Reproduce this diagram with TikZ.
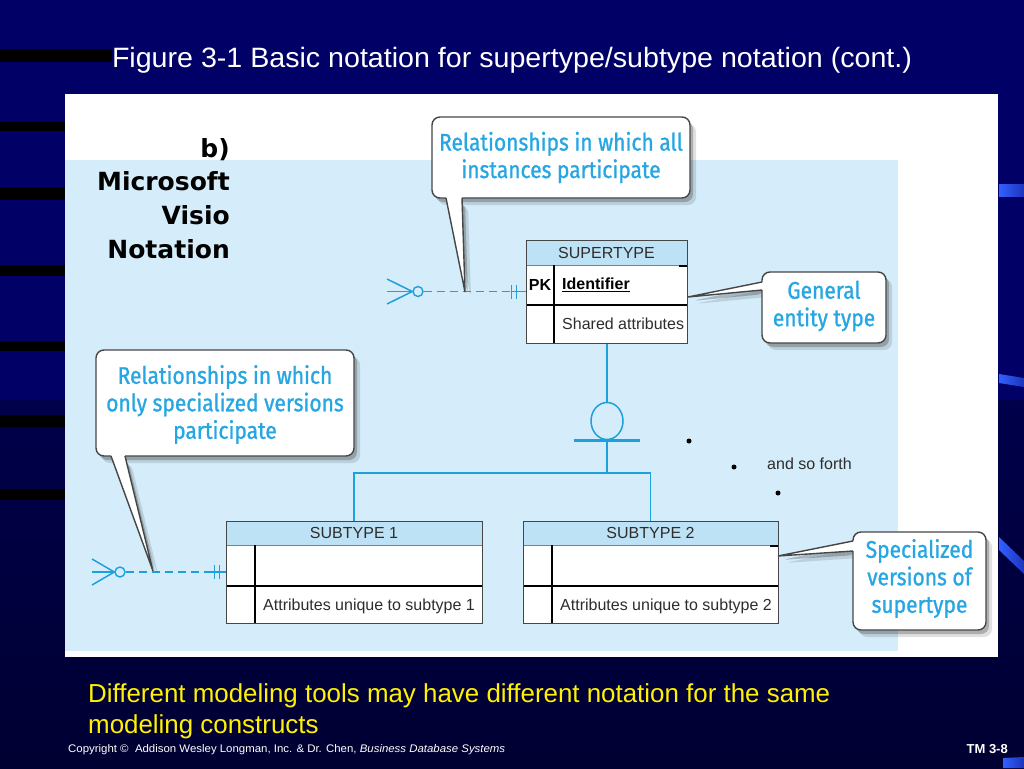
\documentclass[tikz,border=0pt]{standalone}
\usepackage{fontspec}
\setmainfont{Liberation Sans}
\newfontfamily\callfont{Fira Sans}[FakeStretch=0.875, FakeBold=1]
\newfontfamily\visfont{DejaVu Sans}
\usetikzlibrary{shapes.geometric,calc}
\definecolor{navy}{RGB}{0,0,102}
\definecolor{navydark}{RGB}{0,0,50}
\definecolor{panelblue}{RGB}{213,237,250}
\definecolor{headblue}{RGB}{190,226,245}
\definecolor{cyanline}{RGB}{30,160,220}
\definecolor{calltextc}{RGB}{38,166,226}
\definecolor{edgegray}{RGB}{70,70,70}
\definecolor{textgray}{RGB}{45,45,45}
\definecolor{streak}{RGB}{50,95,255}
\newcommand\drawcallout[3]{%
  \fill[black, opacity=.12, shift={(6,7)}, rounded corners=8] #1 #2 -- cycle;
  \fill[black, opacity=.22, shift={(3,4)}, rounded corners=8] #1 #2 -- cycle;
  \fill[white, rounded corners=8] #1;
  \fill[white] #2 -- cycle;
  \draw[calledge, rounded corners=8] #3;
  \draw[calledge] #2;
}
\begin{document}
\begin{tikzpicture}[x=1pt,y=-1pt,
  conn/.style={draw=cyanline, line width=1.5},
  calledge/.style={draw=edgegray, line width=1.4},
  calltxt/.style={font=\callfont\fontsize{24}{27.5}\selectfont, text=calltextc, align=center, inner sep=0},
  entitybox/.style={draw=edgegray, line width=1, inner sep=0},
  thinline/.style={draw=gray, line width=1},
  thickline/.style={draw=black, line width=2.2},
  entxt/.style={font=\fontsize{16}{18}\selectfont, text=textgray, text height=11.5, text depth=0, inner sep=2},
  vistext/.style={font=\visfont\bfseries\fontsize{25}{30}\selectfont, text=black, inner sep=0, anchor=base east},
  ocirc/.style={circle, draw=cyanline, line width=1.4, minimum size=10, inner sep=0},
  dotn/.style={circle, fill=black, minimum size=5, inner sep=0}]
\useasboundingbox (0,0) rectangle (1024,768);
% background
\shade[top color=navy, bottom color=navydark] (0,0) rectangle (1024,768);
\fill[navy] (0,0) rectangle (1024,400);
\foreach \a/\b/\c in {49/62/112, 122/131/70, 187/200/70, 265/276/70, 341/351/70, 415/427/70, 489/500/70}
  \fill[black] (0,\a) rectangle (\c,\b);
\shade[left color=streak, right color=streak!55!navy] (999,184) rectangle (1024,196);
\shade[left color=streak, right color=streak!55!navy] (999,374) -- (1024,378) -- (1024,387) -- (999,383) -- cycle;
\shade[left color=streak, right color=streak!55!navy] (999,537) -- (1024,561) -- (1024,574) -- (999,550) -- cycle;
\shade[left color=streak, right color=streak!55!navy] (1003,758) -- (1024,757) -- (1024,768) -- (1003,768) -- cycle;
% panel
\fill[white] (65,94) rectangle (998,657);
\fill[panelblue] (65,160) rectangle (898,651);
% title
\node[font=\fontsize{28}{32}\selectfont, text=white, anchor=base, inner sep=0] (title) at (512,67)
  {\resizebox{800pt}{\height}{Figure 3-1 Basic notation for supertype/subtype notation (cont.)}};
% Visio label
\node[vistext] (vb) at (230,157) {b)};
\node[vistext] (vm) at (230,190) {Microsoft};
\node[vistext] (vv) at (230,224) {Visio};
\node[vistext] (vn) at (230,258) {Notation};
% SUPERTYPE entity
\fill[white] (526,240) rectangle (687,343);
\fill[headblue] (526,240) rectangle (687,265);
\draw[thinline] (526,265) -- (687,265);
\draw[thickline] (526,305) -- (687,305);
\draw[thickline] (554,265) -- (554,343);
\draw[black, line width=2] (679,265.5) -- (687,265.5);
\node[entitybox, minimum width=161, minimum height=103] (sup) at (606.5,291.5) {};
\node[entxt] (suph) at (606.5,252.5) {SUPERTYPE};
\node[entxt, font=\bfseries\fontsize{16}{18}\selectfont, text=black] (pk) at (540,285) {PK};
\node[entxt, font=\bfseries\fontsize{16}{18}\selectfont, text=black, anchor=west] (ident) at (560,284) {\underline{Identifier}};
\node[entxt, anchor=west] (shared) at (560,324) {Shared attributes};
% SUBTYPE 1
\fill[white] (226,521) rectangle (482,623);
\fill[headblue] (226,521) rectangle (482,545);
\draw[thinline] (226,545) -- (482,545);
\draw[thickline] (226,586) -- (482,586);
\draw[thickline] (255,545) -- (255,623);
\node[entitybox, minimum width=256, minimum height=102] (sub1) at (354,572) {};
\node[entxt] (sub1h) at (354,533) {SUBTYPE 1};
\node[entxt, anchor=west] (sub1a) at (261,605) {Attributes unique to subtype 1};
% SUBTYPE 2
\fill[white] (523,521) rectangle (778,623);
\fill[headblue] (523,521) rectangle (778,545);
\draw[thinline] (523,545) -- (778,545);
\draw[thickline] (523,586) -- (778,586);
\draw[thickline] (552,545) -- (552,623);
\draw[black, line width=2] (770,546) -- (778,546);
\node[entitybox, minimum width=255, minimum height=102] (sub2) at (650.5,572) {};
\node[entxt] (sub2h) at (650.5,533) {SUBTYPE 2};
\node[entxt, anchor=west] (sub2a) at (558,605) {Attributes unique to subtype 2};
% subtype connector
\node[ellipse, draw=cyanline, line width=1.5, minimum width=32, minimum height=37, inner sep=0] (disc) at (607,421) {};
\draw[conn, line width=2.2] (disc.north |- sup.south) -- (disc.north);
\draw[conn, line width=2.6] ($(disc.south)+(-33,0)$) -- ($(disc.south)+(33,0)$);
\coordinate (j) at (607,473);
\draw[conn, line width=2.2] (disc.south) -- (j);
\draw[conn] (sub1.north) |- (j) -| (sub2.north);
% and so forth
\node[dotn] (d1) at (689,441) {};
\node[dotn] (d2) at (734,467) {};
\node[dotn] (d3) at (778,493) {};
\node[font=\fontsize{16}{18}\selectfont, text=textgray, anchor=base west, inner sep=0] (asf) at (767,469) {and so forth};
% relationship (supertype)
\node[ocirc] (o1) at (418,291.5) {};
\draw[conn] (387,279) -- (o1.west) -- (387,304);
\draw[conn] (387,291.5) -- (o1.west);
\draw[conn, dash pattern=on 8pt off 5pt] (o1.east) -- ($(sup.west)+(-15,0)$);
\draw[conn] ($(sup.west)+(-15,0)$) -- (sup.west);
\draw[conn] ($(sup.west)+(-14,-7)$) -- ++(0,14);
\draw[conn] ($(sup.west)+(-9,-7)$) -- ++(0,14);
% relationship (subtype 1)
\node[ocirc] (o2) at (120,572) {};
\draw[conn] (92,559) -- (o2.west) -- (92,585);
\draw[conn] (92,572) -- (o2.west);
\draw[conn, dash pattern=on 8pt off 5pt] (o2.east) -- ($(sub1.west)+(-15,0)$);
\draw[conn] ($(sub1.west)+(-15,0)$) -- (sub1.west);
\draw[conn] ($(sub1.west)+(-11,-7)$) -- ++(0,14);
\draw[conn] ($(sub1.west)+(-6,-7)$) -- ++(0,14);
% callouts
\drawcallout{(432,117) rectangle (690,198)}{(446,198) -- (465,292) -- (462,198)}
  {(462,198) -- (690,198) -- (690,117) -- (432,117) -- (432,198) -- (446,198)}
\node[calltxt] (c1) at (561,157.5) {Relationships in which all\\instances participate};
\drawcallout{(762,272) rectangle (886,343)}{(762,282) -- (688,297) -- (762,290)}
  {(762,290) -- (762,343) -- (886,343) -- (886,272) -- (762,272) -- (762,282)}
\node[calltxt] (c2) at (824,306) {General\\entity type};
\drawcallout{(96,350) rectangle (354,456)}{(111,456) -- (153,571) -- (125,456)}
  {(125,456) -- (354,456) -- (354,350) -- (96,350) -- (96,456) -- (111,456)}
\node[calltxt] (c3) at (225,404.5) {Relationships in which\\only specialized versions\\participate};
\drawcallout{(853,532) rectangle (986,630)}{(853,541) -- (778,556) -- (853,551)}
  {(853,551) -- (853,630) -- (986,630) -- (986,532) -- (853,532) -- (853,541)}
\node[calltxt] (c4) at (919.5,578.5) {Specialized\\versions of\\supertype};
% bottom text
\node[font=\fontsize{26}{31}\selectfont, text=yellow, anchor=base west, inner sep=0] (note) at (88,702)
  {\resizebox{742pt}{\height}{\begin{tabular}[t]{@{}l@{}}Different modeling tools may have different notation for the same\\modeling constructs\end{tabular}}};
\node[font=\fontsize{11}{13}\selectfont, text=white, anchor=base west, inner sep=0] (copy) at (68,752)
  {\resizebox{437pt}{\height}{Copyright \textcopyright{}\ \ Addison Wesley Longman, Inc. \& Dr. Chen, \textit{Business Database Systems}}};
\node[font=\bfseries\fontsize{13}{15}\selectfont, text=white, anchor=base east, inner sep=0] (tm) at (1008,753) {TM 3-8};
\end{tikzpicture}
\end{document}
